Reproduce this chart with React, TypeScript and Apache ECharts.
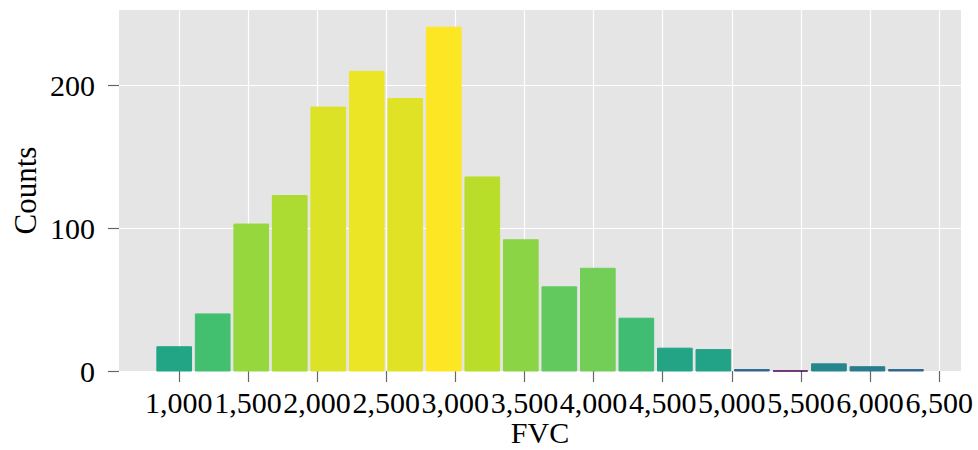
import React, { useEffect, useRef } from "react";
import * as echarts from "echarts";

// Histogram of FVC: 20 equal bins between 827 and 6399
const binEdges = [
  827, 1105.6, 1384.2, 1662.8, 1941.4, 2220, 2498.6, 2777.2, 3055.8, 3334.4,
  3613, 3891.6, 4170.2, 4448.8, 4727.4, 5006, 5284.6, 5563.2, 5841.8, 6120.4, 6399,
];
const counts = [17, 40, 103, 123, 185, 210, 191, 241, 136, 92, 59, 72, 37, 16, 15, 1, 0, 5, 3, 1];
const xTicks = [1000, 1500, 2000, 2500, 3000, 3500, 4000, 4500, 5000, 5500, 6000, 6500];
const yTicks = [0, 100, 200];

const viridis = [
  "#440154", "#482475", "#414487", "#355f8d", "#2a788e", "#21918c",
  "#22a884", "#44bf70", "#7ad151", "#bddf26", "#fde725",
];

const FONT = "Liberation Serif";

export default function App() {
  const ref = useRef<HTMLDivElement>(null);
  useEffect(() => {
    if (!ref.current) return;
    const chart = echarts.init(ref.current, null, { renderer: "svg" });
    const maxCount = Math.max(...counts);
    const data = counts.map((c, i) => [binEdges[i], binEdges[i + 1], c]);
    const RW = 0.9;
    chart.setOption({
      animation: false,
      backgroundColor: "#ffffff",
      grid: {
        left: 119,
        right: 17,
        top: 10,
        bottom: 79,
        show: true,
        backgroundColor: "#e5e5e5",
        borderWidth: 0,
        containLabel: false,
        outerBoundsMode: "none",
      },
      xAxis: {
        type: "value",
        min: 567,
        max: 6658,
        name: "FVC",
        nameLocation: "middle",
        nameGap: 46,
        nameMoveOverlap: false,
        nameTextStyle: { fontFamily: FONT, fontSize: 30, lineHeight: 30, color: "#000" },
        axisLine: { show: false },
        axisTick: {
          show: true,
          length: 11,
          customValues: xTicks,
          lineStyle: { color: "#666", width: 1.2 },
        },
        axisLabel: {
          customValues: xTicks,
          margin: 16,
          fontFamily: FONT,
          fontSize: 30,
          color: "#000",
          formatter: (v: number) => v.toLocaleString("en-US"),
        },
        splitLine: { show: true, lineStyle: { color: "#ffffff", width: 1.2 } },
      },
      yAxis: {
        type: "value",
        min: 0,
        max: 253.05,
        name: "Counts",
        nameLocation: "middle",
        nameGap: 78,
        nameMoveOverlap: false,
        nameTextStyle: { fontFamily: FONT, fontSize: 31, color: "#000" },
        axisLine: { show: false },
        axisTick: {
          show: true,
          length: 11,
          customValues: yTicks,
          lineStyle: { color: "#666", width: 1.2 },
        },
        axisLabel: {
          customValues: yTicks,
          margin: 24,
          fontFamily: FONT,
          fontSize: 30,
          color: "#000",
        },
        splitLine: { show: true, lineStyle: { color: "#ffffff", width: 1.2 } },
      },
      series: [
        {
          type: "custom",
          data,
          encode: { x: [0, 1], y: 2 },
          renderItem: (params: any, api: any) => {
            const x0 = api.value(0);
            const x1 = api.value(1);
            const c = api.value(2);
            const pad = ((x1 - x0) * (1 - RW)) / 2;
            const p0 = api.coord([x0 + pad, c]);
            const p1 = api.coord([x1 - pad, 0]);
            const color = echarts.color.lerp(Math.pow(c / maxCount, 0.2), viridis);
            return {
              type: "rect",
              shape: { x: p0[0], y: p0[1], width: p1[0] - p0[0], height: p1[1] - p0[1] },
              style: { fill: color, stroke: color, lineWidth: 1 },
            };
          },
        },
      ],
    });
    return () => chart.dispose();
  }, []);
  return (
    <div
      ref={ref}
      style={{ position: "fixed", left: 0, top: 0, width: 978, height: 450 }}
    />
  );
}
